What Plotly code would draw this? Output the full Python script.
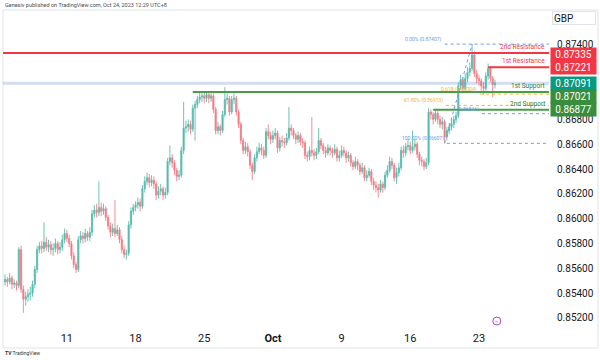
import plotly.graph_objects as go

# ---------------- data (EURGBP-like 4H candles) ----------------
opens = [
    0.8549, 0.8551, 0.8549, 0.8552, 0.8547, 0.8548, 0.8546, 0.8575, 0.8543, 0.8535,
    0.8537, 0.8539, 0.8540, 0.8547, 0.8559, 0.8575, 0.8578, 0.8576, 0.8581, 0.8577,
    0.8579, 0.8575, 0.8576, 0.8580, 0.8575, 0.8577, 0.8583, 0.8588, 0.8584, 0.8580,
    0.8570, 0.8563, 0.8559, 0.8583, 0.8586, 0.8584, 0.8588, 0.8585, 0.8589, 0.8604,
    0.8607, 0.8605, 0.8609, 0.8606, 0.8608, 0.8601, 0.8594, 0.8589, 0.8592, 0.8588,
    0.8591, 0.8583, 0.8575, 0.8571, 0.8572, 0.8595, 0.8606, 0.8609, 0.8611, 0.8613,
    0.8610, 0.8624, 0.8630, 0.8633, 0.8629, 0.8631, 0.8628, 0.8619, 0.8622, 0.8624,
    0.8619, 0.8621, 0.8646, 0.8649, 0.8645, 0.8639, 0.8634, 0.8635, 0.8655, 0.8673,
    0.8674, 0.8676, 0.8672, 0.8689, 0.8692, 0.8696, 0.8698, 0.8699, 0.8697, 0.8700,
    0.8697, 0.8699, 0.8688, 0.8671, 0.8674, 0.8671, 0.8684, 0.8696, 0.8697, 0.8686,
    0.8696, 0.8697, 0.8686, 0.8676, 0.8663, 0.8655, 0.8658, 0.8654, 0.8643, 0.8638,
    0.8649, 0.8654, 0.8657, 0.8655, 0.8651, 0.8670, 0.8667, 0.8664, 0.8667, 0.8669,
    0.8657, 0.8663, 0.8662, 0.8661, 0.8665, 0.8673, 0.8671, 0.8667, 0.8664, 0.8667,
    0.8662, 0.8661, 0.8651, 0.8650, 0.8655, 0.8653, 0.8651, 0.8654, 0.8663, 0.8659,
    0.8655, 0.8653, 0.8657, 0.8655, 0.8653, 0.8656, 0.8649, 0.8651, 0.8655, 0.8653,
    0.8649, 0.8651, 0.8645, 0.8642, 0.8646, 0.8643, 0.8638, 0.8641, 0.8633, 0.8635,
    0.8638, 0.8630, 0.8627, 0.8625, 0.8623, 0.8628, 0.8625, 0.8635, 0.8639, 0.8646,
    0.8643, 0.8633, 0.8637, 0.8641, 0.8655, 0.8653, 0.8658, 0.8659, 0.8655, 0.8658,
    0.8660, 0.8652, 0.8647, 0.8646, 0.8642, 0.8645, 0.8686, 0.8684, 0.8680, 0.8685,
    0.8680, 0.8676, 0.8678, 0.8666, 0.8671, 0.8674, 0.8676, 0.8680, 0.8683, 0.8707,
    0.8712, 0.8705, 0.8713, 0.8718, 0.8721, 0.8732, 0.8717, 0.8713, 0.8711, 0.8707,
    0.8705, 0.8715, 0.8721, 0.8713, 0.8708,
]
highs = [
    0.8555, 0.8553, 0.8556, 0.8554, 0.8551, 0.8550, 0.8577, 0.8578, 0.8546, 0.8541,
    0.8543, 0.8545, 0.8550, 0.8562, 0.8578, 0.8581, 0.8582, 0.8597, 0.8585, 0.8583,
    0.8582, 0.8580, 0.8584, 0.8582, 0.8581, 0.8587, 0.8592, 0.8591, 0.8587, 0.8582,
    0.8573, 0.8565, 0.8586, 0.8590, 0.8589, 0.8592, 0.8590, 0.8593, 0.8607, 0.8611,
    0.8612, 0.8630, 0.8613, 0.8612, 0.8610, 0.8603, 0.8597, 0.8596, 0.8615, 0.8595,
    0.8593, 0.8586, 0.8578, 0.8575, 0.8598, 0.8609, 0.8612, 0.8614, 0.8617, 0.8616,
    0.8627, 0.8634, 0.8637, 0.8636, 0.8635, 0.8634, 0.8630, 0.8626, 0.8628, 0.8626,
    0.8625, 0.8649, 0.8659, 0.8652, 0.8647, 0.8641, 0.8639, 0.8658, 0.8694, 0.8679,
    0.8680, 0.8679, 0.8692, 0.8695, 0.8699, 0.8702, 0.8703, 0.8702, 0.8703, 0.8702,
    0.8703, 0.8701, 0.8690, 0.8678, 0.8676, 0.8687, 0.8706, 0.8701, 0.8699, 0.8699,
    0.8701, 0.8699, 0.8688, 0.8678, 0.8665, 0.8662, 0.8661, 0.8656, 0.8645, 0.8652,
    0.8658, 0.8661, 0.8660, 0.8658, 0.8673, 0.8676, 0.8670, 0.8671, 0.8673, 0.8671,
    0.8666, 0.8667, 0.8665, 0.8669, 0.8690, 0.8676, 0.8673, 0.8669, 0.8670, 0.8669,
    0.8665, 0.8663, 0.8654, 0.8658, 0.8682, 0.8656, 0.8657, 0.8673, 0.8665, 0.8661,
    0.8658, 0.8660, 0.8659, 0.8657, 0.8660, 0.8658, 0.8655, 0.8659, 0.8658, 0.8655,
    0.8654, 0.8653, 0.8647, 0.8650, 0.8648, 0.8645, 0.8645, 0.8643, 0.8639, 0.8641,
    0.8640, 0.8633, 0.8630, 0.8628, 0.8631, 0.8630, 0.8638, 0.8643, 0.8650, 0.8649,
    0.8645, 0.8641, 0.8645, 0.8658, 0.8659, 0.8661, 0.8664, 0.8662, 0.8671, 0.8664,
    0.8662, 0.8654, 0.8650, 0.8648, 0.8649, 0.8689, 0.8688, 0.8686, 0.8688, 0.8687,
    0.8683, 0.8682, 0.8680, 0.8674, 0.8677, 0.8680, 0.8683, 0.8686, 0.8710, 0.8716,
    0.8714, 0.8717, 0.8722, 0.8726, 0.87407, 0.8735, 0.8720, 0.8716, 0.8713, 0.8710,
    0.8718, 0.8725, 0.8723, 0.8715, 0.8712,
]
lows = [
    0.8546, 0.8545, 0.8547, 0.8543, 0.8544, 0.8542, 0.8544, 0.8540, 0.8524, 0.8530,
    0.8533, 0.8534, 0.8537, 0.8544, 0.8556, 0.8572, 0.8572, 0.8573, 0.8574, 0.8573,
    0.8571, 0.8570, 0.8573, 0.8571, 0.8572, 0.8574, 0.8580, 0.8581, 0.8577, 0.8567,
    0.8560, 0.8556, 0.8557, 0.8580, 0.8580, 0.8581, 0.8582, 0.8582, 0.8586, 0.8601,
    0.8601, 0.8602, 0.8602, 0.8603, 0.8598, 0.8591, 0.8585, 0.8586, 0.8585, 0.8586,
    0.8580, 0.8572, 0.8568, 0.8567, 0.8570, 0.8592, 0.8603, 0.8606, 0.8608, 0.8606,
    0.8608, 0.8621, 0.8627, 0.8625, 0.8626, 0.8624, 0.8615, 0.8616, 0.8619, 0.8615,
    0.8616, 0.8619, 0.8643, 0.8641, 0.8635, 0.8630, 0.8631, 0.8633, 0.8652, 0.8669,
    0.8670, 0.8668, 0.8670, 0.8663, 0.8689, 0.8693, 0.8694, 0.8693, 0.8694, 0.8693,
    0.8694, 0.8685, 0.8668, 0.8668, 0.8667, 0.8669, 0.8682, 0.8692, 0.8683, 0.8684,
    0.8692, 0.8683, 0.8673, 0.8660, 0.8652, 0.8652, 0.8650, 0.8640, 0.8631, 0.8636,
    0.8646, 0.8652, 0.8651, 0.8648, 0.8649, 0.8664, 0.8660, 0.8661, 0.8664, 0.8653,
    0.8654, 0.8658, 0.8657, 0.8659, 0.8663, 0.8667, 0.8664, 0.8660, 0.8661, 0.8659,
    0.8657, 0.8648, 0.8646, 0.8647, 0.8650, 0.8647, 0.8648, 0.8652, 0.8656, 0.8652,
    0.8649, 0.8651, 0.8651, 0.8649, 0.8651, 0.8646, 0.8646, 0.8649, 0.8650, 0.8645,
    0.8646, 0.8642, 0.8639, 0.8640, 0.8639, 0.8635, 0.8636, 0.8630, 0.8630, 0.8633,
    0.8627, 0.8623, 0.8621, 0.8617, 0.8621, 0.8621, 0.8623, 0.8633, 0.8637, 0.8640,
    0.8630, 0.8628, 0.8634, 0.8639, 0.8649, 0.8650, 0.8655, 0.8652, 0.8653, 0.8655,
    0.8649, 0.8643, 0.8642, 0.8639, 0.8640, 0.8643, 0.8680, 0.8676, 0.8678, 0.8676,
    0.8673, 0.8672, 0.86607, 0.8663, 0.8668, 0.8671, 0.8673, 0.8677, 0.8681, 0.8704,
    0.8701, 0.8703, 0.8710, 0.8715, 0.8719, 0.8714, 0.8709, 0.8707, 0.8703, 0.8700,
    0.8703, 0.8712, 0.8710, 0.8698, 0.8705,
]
closes = [
    0.8551, 0.8549, 0.8552, 0.8547, 0.8548, 0.8546, 0.8575, 0.8543, 0.8535, 0.8537,
    0.8539, 0.8540, 0.8547, 0.8559, 0.8575, 0.8578, 0.8576, 0.8581, 0.8577, 0.8579,
    0.8575, 0.8576, 0.8580, 0.8575, 0.8577, 0.8583, 0.8588, 0.8584, 0.8580, 0.8570,
    0.8563, 0.8559, 0.8583, 0.8586, 0.8584, 0.8588, 0.8585, 0.8589, 0.8604, 0.8607,
    0.8605, 0.8609, 0.8606, 0.8608, 0.8601, 0.8594, 0.8589, 0.8592, 0.8588, 0.8591,
    0.8583, 0.8575, 0.8571, 0.8572, 0.8595, 0.8606, 0.8609, 0.8611, 0.8613, 0.8610,
    0.8624, 0.8630, 0.8633, 0.8629, 0.8631, 0.8628, 0.8619, 0.8622, 0.8624, 0.8619,
    0.8621, 0.8646, 0.8649, 0.8645, 0.8639, 0.8634, 0.8635, 0.8655, 0.8673, 0.8674,
    0.8676, 0.8672, 0.8689, 0.8692, 0.8696, 0.8698, 0.8699, 0.8697, 0.8700, 0.8697,
    0.8699, 0.8688, 0.8671, 0.8674, 0.8671, 0.8684, 0.8696, 0.8697, 0.8686, 0.8696,
    0.8697, 0.8686, 0.8676, 0.8663, 0.8655, 0.8658, 0.8654, 0.8643, 0.8638, 0.8649,
    0.8654, 0.8657, 0.8655, 0.8651, 0.8670, 0.8667, 0.8664, 0.8667, 0.8669, 0.8657,
    0.8663, 0.8662, 0.8661, 0.8665, 0.8673, 0.8671, 0.8667, 0.8664, 0.8667, 0.8662,
    0.8661, 0.8651, 0.8650, 0.8655, 0.8653, 0.8651, 0.8654, 0.8663, 0.8659, 0.8655,
    0.8653, 0.8657, 0.8655, 0.8653, 0.8656, 0.8649, 0.8651, 0.8655, 0.8653, 0.8649,
    0.8651, 0.8645, 0.8642, 0.8646, 0.8643, 0.8638, 0.8641, 0.8633, 0.8635, 0.8638,
    0.8630, 0.8627, 0.8625, 0.8623, 0.8628, 0.8625, 0.8635, 0.8639, 0.8646, 0.8643,
    0.8633, 0.8637, 0.8641, 0.8655, 0.8653, 0.8658, 0.8659, 0.8655, 0.8658, 0.8660,
    0.8652, 0.8647, 0.8646, 0.8642, 0.8645, 0.8686, 0.8684, 0.8680, 0.8685, 0.8680,
    0.8676, 0.8678, 0.8666, 0.8671, 0.8674, 0.8676, 0.8680, 0.8683, 0.8707, 0.8712,
    0.8705, 0.8713, 0.8718, 0.8721, 0.8732, 0.8717, 0.8713, 0.8711, 0.8707, 0.8705,
    0.8715, 0.8721, 0.8713, 0.8708, 0.87091,
]
bars = list(range(len(closes)))

# first bar of each week and its label
week_label_bars = [27, 57, 87, 117, 147, 177, 207]
week_labels = ["11", "18", "25", "<b>Oct</b>", "9", "16", "23"]

# price-scale ticks (0.87200 / 0.87000 sit fully under the price tags)
price_ticks = [0.852, 0.854, 0.856, 0.858, 0.860, 0.862, 0.864,
               0.866, 0.868, 0.874]

level_names = ["2nd Resistance", "1st Resistance", "1st Support", "2nd Support"]
level_prices = [0.87335, 0.87221, 0.87021, 0.86877]
level_start_bar = [-1, 211, 82, 187]

fib_texts = ["0.00% (0.87407)", "0.618 (0.87004)", "61.80% (0.86913)",
             "1 (0.86846)", "100.00% (0.86607)"]
fib_prices = [0.87407, 0.87004, 0.86913, 0.86846, 0.86607]
fib_start_bar = [192, 207.5, 192.5, 208.3, 193]
fib_trend_bars = [192, 204]
fib_trend_prices = [0.86607, 0.87407]

last_price = 0.87091
event_bar = 214.8
event_price = 0.85174

# ---------------- style ----------------
RED = "#f23645"
GREEN_LINE = "#4a9d47"
GREEN_BOX = "#388e3c"
TEAL = "#089981"
BLUE = "#6a9ee8"
ORANGE = "#f2b233"
TXT = "#131722"
FONT = "Roboto"

W, H = 600, 360
L, R, T, B = 3, 51, 10, 32
PW, PH = W - L - R, H - T - B
XR = [-0.9, 237.6]
YR = [0.85118, 0.87682]


def px_x(px):
    return (px - L) / PW


def px_y(py):
    return (H - B - py) / PH


fig = go.Figure()

fig.add_trace(go.Candlestick(
    x=bars, open=opens, high=highs, low=lows, close=closes,
    increasing=dict(line=dict(color="#3fb2a4", width=0.9), fillcolor="#26a69a"),
    decreasing=dict(line=dict(color="#f26b77", width=0.9), fillcolor="#ef5350"),
    whiskerwidth=0, opacity=0.85, showlegend=False, hoverinfo="skip",
))

shapes = []
annotations = []

# current price band
shapes.append(dict(type="line", xref="x", yref="y", x0=XR[0], x1=XR[1],
                   y0=last_price, y1=last_price,
                   line=dict(color="rgba(175,195,230,0.55)", width=3), layer="below"))

# support / resistance lines
level_colors = [RED, RED, GREEN_LINE, GREEN_LINE]
label_colors = [RED, RED, "#2e7d32", "#2e7d32"]
for name, p, sb, lc, tc in zip(level_names, level_prices, level_start_bar,
                               level_colors, label_colors):
    shapes.append(dict(type="line", xref="x", yref="y", x0=sb, x1=XR[1], y0=p, y1=p,
                       line=dict(color=lc, width=2)))
    annotations.append(dict(xref="paper", yref="y", x=1, y=p, xanchor="right",
                            yanchor="bottom", xshift=-2, yshift=0, text=name,
                            showarrow=False, font=dict(family=FONT, size=6.5, color=tc)))

# fib levels
fib_colors = [BLUE, ORANGE, ORANGE, BLUE, BLUE]
for t, p, sb, c in zip(fib_texts, fib_prices, fib_start_bar, fib_colors):
    shapes.append(dict(type="line", xref="x", yref="y", x0=sb, x1=XR[1], y0=p, y1=p,
                       line=dict(color=c, width=1, dash="dot")))
    annotations.append(dict(xref="x", yref="y", x=sb, y=p, xanchor="right",
                            yanchor="bottom", xshift=-1, yshift=-1, text=t,
                            showarrow=False, font=dict(family=FONT, size=5, color=c)))
fig.add_trace(go.Scatter(x=fib_trend_bars, y=fib_trend_prices, mode="lines",
                         line=dict(color=BLUE, width=1, dash="dot"),
                         showlegend=False, hoverinfo="skip"))

# right-side price tags
box_prices = [0.87335, 0.87221, last_price, 0.87021, 0.86877]
box_colors = [RED, RED, TEAL, GREEN_BOX, GREEN_BOX]
box_shift = [-1.5, -0.5, 0, -4.5, 0]
for p, c, s in zip(box_prices, box_colors, box_shift):
    annotations.append(dict(xref="paper", yref="y", x=1, y=p, xanchor="left",
                            yanchor="middle", xshift=1, yshift=s,
                            text=f"{p:.5f}", showarrow=False, bgcolor=c,
                            width=45, height=13, borderpad=0, align="center",
                            font=dict(family=FONT, size=10, color="white")))

# GBP box
annotations.append(dict(xref="paper", yref="paper", x=px_x(552), y=px_y(18),
                        xanchor="left", yanchor="middle", text="GBP",
                        showarrow=False, width=40, height=10, align="left",
                        bordercolor="#e0e3eb", borderwidth=1, bgcolor="white",
                        font=dict(family=FONT, size=10, color=TXT)))

# header & footer
annotations.append(dict(xref="paper", yref="paper", x=px_x(3), y=px_y(5),
                        xanchor="left", yanchor="middle",
                        text="Genesiv published on TradingView.com, Oct 24, 2023 12:29 UTC+8",
                        showarrow=False, font=dict(family=FONT, size=5.5, color="#4a4a4a")))
annotations.append(dict(xref="paper", yref="paper", x=px_x(3), y=px_y(353),
                        xanchor="left", yanchor="middle",
                        text="<b>TV</b> TradingView",
                        showarrow=False, font=dict(family=FONT, size=5, color="#333333")))

# outer frame
shapes.append(dict(type="rect", xref="paper", yref="paper", x0=0, x1=px_x(598),
                   y0=px_y(348), y1=1, line=dict(color="#e0e3eb", width=1),
                   layer="below"))

# event marker
shapes.append(dict(type="circle", xref="x", yref="y", xsizemode="pixel",
                   ysizemode="pixel", xanchor=event_bar, yanchor=event_price,
                   x0=-4, x1=4, y0=-4, y1=4, line=dict(color="#ab47bc", width=1)))
annotations.append(dict(xref="x", yref="y", x=event_bar, y=event_price, text="ϟ",
                        showarrow=False, font=dict(family=FONT, size=6, color="#ab47bc")))

fig.update_layout(
    width=W, height=H,
    margin=dict(l=L, r=R, t=T, b=B, pad=0, autoexpand=False),
    paper_bgcolor="white", plot_bgcolor="white",
    shapes=shapes, annotations=annotations,
    font=dict(family=FONT, color=TXT),
    xaxis=dict(range=XR, tickvals=week_label_bars, ticktext=week_labels,
               showgrid=False, zeroline=False, showline=False, ticks="",
               rangeslider=dict(visible=False), tickfont=dict(size=11, color=TXT),
               ticklabelstandoff=2, fixedrange=True, automargin=False),
    yaxis=dict(range=YR, side="right", tickvals=price_ticks, tickformat=".5f",
               showgrid=False, zeroline=False, showline=False, ticks="",
               tickfont=dict(size=10, color=TXT), ticklabelstandoff=7,
               fixedrange=True, automargin=False),
    showlegend=False,
)

fig.write_html("out.html", config={"displayModeBar": False},
               post_script="document.body.style.margin='0';")
